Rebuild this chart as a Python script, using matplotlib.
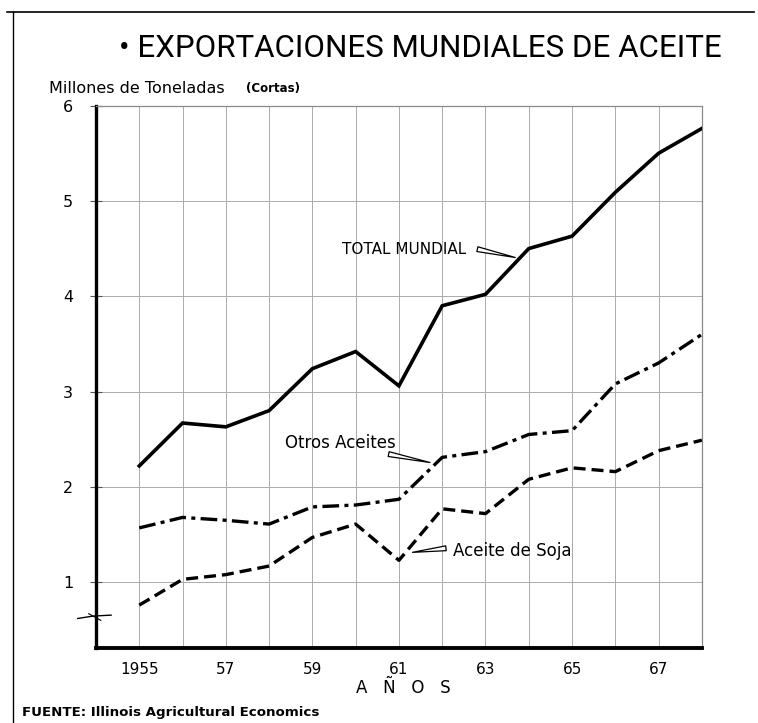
import matplotlib.pyplot as plt
import matplotlib.transforms as mtransforms
from matplotlib.lines import Line2D

# data (millions of short tons)
years = list(range(1955, 1969))
total_mundial = [2.22, 2.67, 2.63, 2.80, 3.24, 3.42, 3.06, 3.90, 4.02,
                 4.50, 4.63, 5.09, 5.50, 5.76]
otros_aceites = [1.57, 1.68, 1.65, 1.61, 1.79, 1.81, 1.87, 2.31, 2.37,
                 2.55, 2.59, 3.08, 3.30, 3.60]
aceite_soja = [0.76, 1.03, 1.08, 1.17, 1.47, 1.61, 1.23, 1.77, 1.72,
               2.08, 2.20, 2.16, 2.38, 2.49]
xtick_years = [1955, 1957, 1959, 1961, 1963, 1965, 1967]
xtick_labels = ["1955", "57", "59", "61", "63", "65", "67"]
ytick_values = [1, 2, 3, 4, 5, 6]

plt.rcParams['font.family'] = ['DejaVu Sans']

fig = plt.figure(figsize=(7.58, 7.23), dpi=100)
ax = fig.add_axes([0.1266, 0.1037, 0.7994, 0.7503])

ax.set_xlim(1954, 1968)
ax.set_ylim(0.31, 6)

# grid
for yr in range(1955, 1968):
    ax.axvline(yr, color="#ababab", lw=0.7, zorder=1)
for v in ytick_values[:-1]:
    ax.axhline(v, color="#ababab", lw=0.7, zorder=1)

ax.plot(years, total_mundial, color="black", lw=2.6, solid_joinstyle="miter", zorder=3)
ax.plot(years, otros_aceites, color="black", lw=2.4, dashes=(5, 1.6, 1.2, 1.6), zorder=3)
ax.plot(years, aceite_soja, color="black", lw=2.4, dashes=(3.6, 1.8), zorder=3)

# spines
for side in ["top", "right"]:
    ax.spines[side].set_color("#8a8a8a")
    ax.spines[side].set_linewidth(0.9)
ax.spines["left"].set_linewidth(2.4)
ax.spines["bottom"].set_linewidth(2.8)

ax.set_xticks(xtick_years)
ax.set_xticklabels(xtick_labels, fontsize=11)
ax.tick_params(axis="x", length=0, pad=10)
ax.set_yticks(ytick_values)
ax.set_yticklabels([str(v) for v in ytick_values], fontsize=11.5)
ax.tick_params(axis="y", direction="inout", length=9, width=0.8,
               color="#555555", pad=12)

# axis break mark on the left axis
tr = mtransforms.blended_transform_factory(ax.transAxes, ax.transData)
ax.add_line(Line2D([-0.03, -0.005, 0.025], [0.62, 0.645, 0.655], transform=tr,
                   color="black", lw=1.0, clip_on=False, zorder=5))
ax.add_line(Line2D([-0.012, 0.008], [0.67, 0.60], transform=tr,
                   color="black", lw=0.8, clip_on=False, zorder=5))

# labels with wedge pointers
wedge = dict(arrowstyle="wedge,tail_width=0.35,shrink_factor=0.5",
             fc="white", ec="black", lw=0.9)
ax.annotate("", xy=(1963.75, 4.40), xytext=(1962.75, 4.50), arrowprops=wedge, zorder=4)
ax.text(1962.55, 4.49, "TOTAL MUNDIAL", fontsize=11, ha="right", va="center")
ax.annotate("", xy=(1961.78, 2.25), xytext=(1960.7, 2.35), arrowprops=wedge, zorder=4)
ax.text(1960.93, 2.46, "Otros Aceites", fontsize=12, ha="right", va="center")
ax.annotate("", xy=(1961.25, 1.31), xytext=(1962.15, 1.36), arrowprops=wedge, zorder=4)
ax.text(1962.25, 1.33, "Aceite de Soja", fontsize=12, ha="left", va="center")

# titles and notes
fig.text(0.554, 0.933, "\u2022 EXPORTACIONES MUNDIALES DE ACEITE", fontsize=22.5,
         ha="center", va="center", family=["Roboto", "DejaVu Sans"], fontweight="normal")
fig.text(0.065, 0.877, "Millones de Toneladas", fontsize=11.5, ha="left", va="center")
fig.text(0.324, 0.878, "(Cortas)", fontsize=8.5, ha="left", va="center", fontweight="bold")
fig.text(0.532, 0.049, "A   Ñ   O   S", fontsize=12, ha="center", va="center")
fig.text(0.029, 0.015, "FUENTE: Illinois Agricultural Economics", fontsize=9.6,
         ha="left", va="center", fontweight="semibold")

# outer frame (top and left)
fig.add_artist(Line2D([0.009, 0.995], [0.983, 0.983], color="black", lw=1.2,
                      transform=fig.transFigure))
fig.add_artist(Line2D([0.017, 0.017], [0.0, 0.983], color="black", lw=1.0,
                      transform=fig.transFigure))

fig.savefig("out.png", dpi=100)
